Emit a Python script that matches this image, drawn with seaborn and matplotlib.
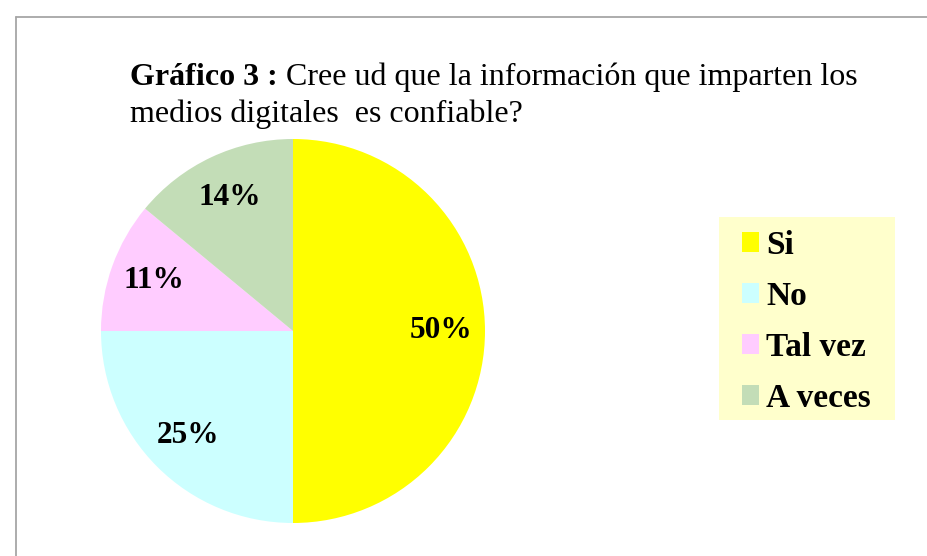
import matplotlib
matplotlib.use("Agg")
import matplotlib.pyplot as plt
import seaborn as sns
from matplotlib.lines import Line2D
from matplotlib.patches import Patch, Rectangle

categories = ["Si", "No", "Tal vez", "A veces"]
percentages = [50, 25, 11, 14]
slice_colors = ["#ffff00", "#ccffff", "#ffccff", "#c3ddb7"]

title_bold = "Gráfico 3 :"
title_rest = " Cree ud que la información que imparten los"
title_line2 = "medios digitales  es confiable?"

sns.set_theme(style="white")
plt.rcParams["font.family"] = ["Liberation Serif", "DejaVu Serif"]
plt.rcParams["text.color"] = "black"

W, H = 927, 556
fig = plt.figure(figsize=(W / 100, H / 100), dpi=100)
fig.patch.set_facecolor("white")


def fx(px):
    return px / W


def fy(py):
    return 1 - py / H


# chart border (only top and left edges visible in the crop)
fig.add_artist(Line2D([fx(16), 1], [fy(17), fy(17)], color="#a6a6a6", lw=1.3, transform=fig.transFigure))
fig.add_artist(Line2D([fx(16), fx(16)], [fy(17), 0], color="#a6a6a6", lw=1.3, transform=fig.transFigure))

# pie
cx, cy, r = 293, 331, 192
ax = fig.add_axes([fx(cx - r), fy(cy + r), fx(2 * r), 2 * r / H])
palette = sns.color_palette(slice_colors)
wedges, _, autotexts = ax.pie(
    percentages,
    colors=palette,
    startangle=90,
    counterclock=False,
    autopct="%.0f%%",
    pctdistance=0.77,
    wedgeprops=dict(linewidth=0),
    textprops=dict(fontsize=22.5, fontweight="bold", color="black"),
)
ax.set_xlim(-1, 1)
ax.set_ylim(-1, 1)
ax.set_axis_off()

# title: bold prefix + normal text
renderer = fig.canvas.get_renderer()
t1 = fig.text(fx(130), fy(85), title_bold, fontsize=23, fontweight="bold", ha="left", va="baseline")
bb = t1.get_window_extent(renderer=renderer)
fig.text(bb.x1 / W, fy(85), title_rest, fontsize=23, ha="left", va="baseline")
fig.text(fx(130), fy(122), title_line2, fontsize=23, ha="left", va="baseline")

# legend: background box drawn separately so padding can differ per side
fig.add_artist(Rectangle((fx(719), fy(420)), fx(895 - 719), (420 - 217) / H,
                         facecolor="#ffffcc", edgecolor="none", transform=fig.transFigure, zorder=0))
handles = [Patch(facecolor=c, edgecolor="none") for c in palette]
leg = fig.legend(
    handles,
    categories,
    loc="upper left",
    bbox_to_anchor=(fx(742), fy(230)),
    bbox_transform=fig.transFigure,
    borderaxespad=0,
    borderpad=0,
    frameon=False,
    prop=dict(family=["Liberation Serif"], weight="bold", size=24),
    handlelength=0.52,
    handleheight=0.52,
    handletextpad=0.2,
    labelspacing=0.6,
)
for txt in leg.get_texts():
    txt.set_color("black")

fig.savefig("out.png", dpi=100)
